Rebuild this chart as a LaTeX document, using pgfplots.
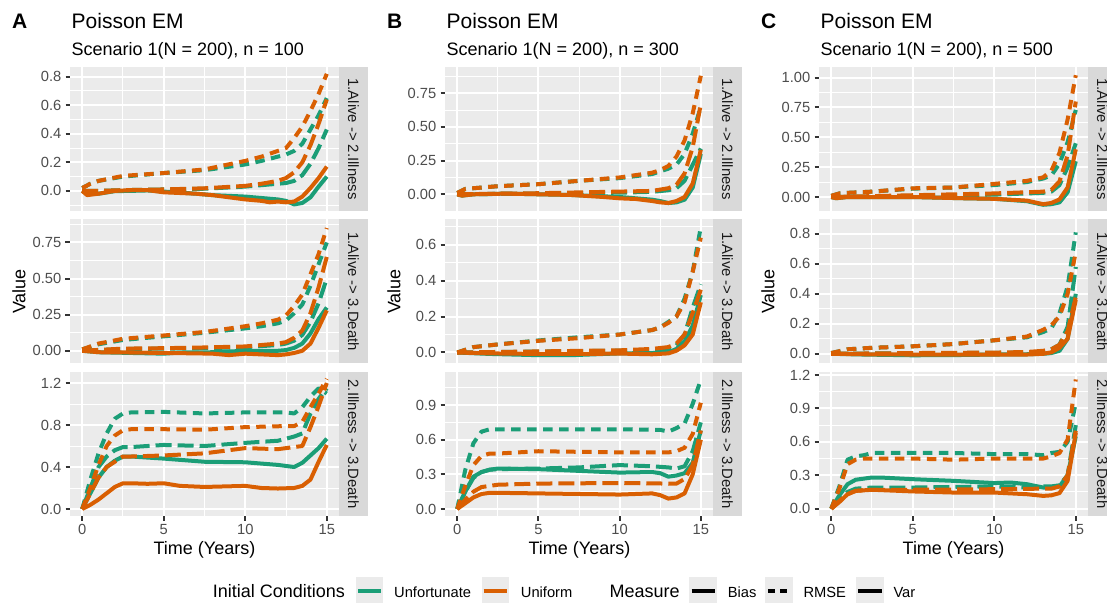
\documentclass[border=0pt]{standalone}
\usepackage{fontspec}
\setmainfont{Liberation Sans}
\usepackage{pgfplots}
\pgfplotsset{compat=1.18}
\definecolor{teal2}{HTML}{1B9E77}
\definecolor{orange2}{HTML}{D95F02}
\definecolor{panelbg}{HTML}{EBEBEB}
\definecolor{stripbg}{HTML}{D9D9D9}
\definecolor{tickc}{HTML}{333333}
\definecolor{labc}{HTML}{4D4D4D}
\definecolor{striptxt}{HTML}{1A1A1A}
\newcommand{\fs}[1]{\fontsize{#1}{#1}\selectfont}
\pgfplotsset{
  panel/.style={
    scale only axis, height=144pt, anchor=south west,
    xmin=-0.75, xmax=15.75, clip=false,
    axis background/.style={fill=panelbg},
    axis line style={draw=none},
    grid=both,
    major grid style={white, line width=2pt},
    minor grid style={white, line width=1pt},
    xtick={0,5,10,15}, minor xtick={2.5,7.5,12.5},
    tick align=outside, major tick length=4.5pt, minor tick length=0pt,
    major tick style={color=tickc, line width=2pt},
    xtick pos=bottom, ytick pos=left,
    tick label style={font=\fs{14.7}, text=labc},
    yticklabel style={inner sep=0pt, xshift=-4pt},
    xticklabel style={inner sep=0pt, yshift=-3.5pt},
  },
  toprow/.style={xmajorticks=false},
  botrow/.style={xticklabels={0,5,10,15}},
  strip/.style={extra description/.code={
    \fill[stripbg] (rel axis cs:1,0) rectangle ([xshift=29pt]rel axis cs:1,1);
    \node[rotate=-90, font=\fs{14.9}, text=striptxt, inner sep=0pt] at ([xshift=14.5pt]rel axis cs:1,0.5) {#1};
  }},
  bias/.style={line width=4pt, line join=round, mark=none},
  rmse/.style={line width=4pt, line join=round, mark=none, dash pattern=on 9.5pt off 6.5pt},
  var/.style={line width=4pt, line join=round, mark=none, dash pattern=on 16pt off 6pt},
}
\begin{document}
\begin{tikzpicture}
\path[use as bounding box] (0,0) rectangle (1107pt,602pt);

%%%%%%%%%%%%%%%% COLUMN A %%%%%%%%%%%%%%%%
\begin{axis}[panel, toprow, at={(70pt,391pt)}, width=269pt,
  ymin=-0.141, ymax=0.868, ytick={0,0.2,0.4,0.6,0.8}, yticklabels={0.0,0.2,0.4,0.6,0.8},
  minor ytick={-0.1,0.1,0.3,0.5,0.7}, strip={1.Alive -> 2.Illness}]
\addplot[teal2, bias] coordinates {(0,0.0)(0.3,-0.02)(1,-0.02)(2,-0.002)(3,0.0)(4,0.003)(5,-0.005)(6,-0.012)(7,-0.02)(8,-0.03)(9,-0.035)(10,-0.04)(11,-0.05)(12,-0.06)(12.5,-0.07)(13,-0.095)(13.5,-0.085)(14,-0.045)(14.5,0.03)(15,0.1)};
\addplot[teal2, rmse] coordinates {(0,0.02)(0.5,0.05)(1,0.07)(2.5,0.1)(5,0.125)(7.5,0.145)(10,0.185)(11,0.21)(12,0.24)(12.5,0.255)(13,0.28)(13.5,0.33)(14,0.43)(14.5,0.53)(15,0.65)};
\addplot[teal2, var] coordinates {(0,0.0)(1,0.0)(2.5,0.005)(5,0.01)(7.5,0.015)(10,0.03)(11,0.04)(12,0.05)(12.5,0.055)(13,0.07)(13.5,0.11)(14,0.19)(14.5,0.3)(15,0.43)};
\addplot[orange2, bias] coordinates {(0,0.0)(0.3,-0.03)(1,-0.02)(2,0.0)(3,0.005)(4,0.005)(5,-0.01)(6,-0.015)(7,-0.02)(8,-0.03)(9,-0.045)(10,-0.06)(11,-0.07)(11.5,-0.08)(12,-0.075)(12.5,-0.08)(13,-0.075)(13.5,-0.04)(14,0.02)(14.5,0.09)(15,0.17)};
\addplot[orange2, rmse] coordinates {(0,0.02)(0.5,0.05)(1,0.07)(2.5,0.105)(5,0.125)(7.5,0.15)(10,0.21)(11,0.24)(12,0.28)(12.5,0.3)(13,0.37)(13.5,0.45)(14,0.56)(14.5,0.68)(15,0.82)};
\addplot[orange2, var] coordinates {(0,0.0)(1,0.0)(2.5,0.005)(5,0.01)(7.5,0.018)(10,0.035)(11,0.05)(12,0.07)(12.5,0.09)(13,0.13)(13.5,0.2)(14,0.32)(14.5,0.47)(15,0.64)};
\end{axis}

\begin{axis}[panel, toprow, at={(70pt,238.5pt)}, width=269pt,
  ymin=-0.088, ymax=0.909, ytick={0,0.25,0.5,0.75}, yticklabels={0.00,0.25,0.50,0.75},
  minor ytick={0.125,0.375,0.625,0.875}, strip={1.Alive -> 3.Death}]
\addplot[teal2, bias] coordinates {(0,0)(1,-0.01)(3,-0.015)(5,-0.02)(6,-0.012)(8,-0.01)(10,0.0)(12,0.0)(12.5,0.005)(13,0.02)(13.5,0.05)(14,0.12)(14.5,0.22)(15,0.3)};
\addplot[teal2, rmse] coordinates {(0,0.01)(1,0.045)(2.5,0.075)(5,0.1)(7.5,0.125)(10,0.155)(11,0.17)(12,0.19)(12.5,0.21)(13,0.26)(13.5,0.32)(14,0.45)(14.5,0.6)(15,0.75)};
\addplot[teal2, var] coordinates {(0,0)(2.5,0.012)(5,0.015)(7.5,0.018)(10,0.025)(12,0.04)(12.5,0.05)(13,0.07)(13.5,0.11)(14,0.2)(14.5,0.33)(15,0.5)};
\addplot[orange2, bias] coordinates {(0,0)(1,-0.01)(3,-0.012)(5,-0.015)(7,-0.018)(8,-0.02)(9,-0.03)(10,-0.02)(11,-0.025)(12,-0.03)(12.5,-0.025)(13,-0.015)(13.5,0.0)(14,0.05)(14.5,0.16)(15,0.28)};
\addplot[orange2, rmse] coordinates {(0,0.01)(1,0.05)(2.5,0.083)(5,0.106)(7.5,0.13)(10,0.17)(11,0.19)(12,0.215)(12.5,0.245)(13,0.31)(13.5,0.39)(14,0.53)(14.5,0.67)(15,0.85)};
\addplot[orange2, var] coordinates {(0,0)(2.5,0.015)(5,0.018)(7.5,0.023)(10,0.03)(12,0.05)(12.5,0.06)(13,0.09)(13.5,0.14)(14,0.26)(14.5,0.44)(15,0.65)};
\end{axis}

\begin{axis}[panel, botrow, at={(70pt,86pt)}, width=269pt,
  ymin=-0.0667, ymax=1.305, ytick={0,0.4,0.8,1.2}, yticklabels={0.0,0.4,0.8,1.2},
  minor ytick={0.2,0.6,1.0}, strip={2.Illness -> 3.Death}]
\addplot[teal2, bias] coordinates {(0,0)(0.5,0.15)(1,0.3)(1.5,0.4)(2,0.46)(2.5,0.5)(3,0.5)(5,0.48)(7.5,0.45)(10,0.445)(12,0.42)(13,0.4)(13.5,0.44)(14,0.51)(14.5,0.58)(15,0.67)};
\addplot[teal2, rmse] coordinates {(0,0)(0.5,0.28)(1,0.53)(1.5,0.72)(2,0.86)(2.5,0.91)(3,0.92)(5,0.925)(7.5,0.91)(10,0.92)(12.5,0.92)(13,0.91)(13.5,0.97)(14,1.07)(14.5,1.15)(15,1.1)};
\addplot[teal2, var] coordinates {(0,0)(0.5,0.2)(1,0.4)(1.5,0.5)(2,0.56)(2.5,0.59)(3,0.59)(5,0.61)(7.5,0.6)(10,0.63)(12,0.65)(13,0.69)(13.5,0.72)(14,0.91)(14.5,1.05)(15,1.15)};
\addplot[orange2, bias] coordinates {(0,0)(0.5,0.04)(1,0.09)(1.5,0.15)(2,0.21)(2.5,0.245)(3,0.245)(4,0.24)(5,0.245)(6,0.22)(7.5,0.21)(10,0.22)(11,0.2)(12,0.195)(13,0.2)(13.5,0.22)(14,0.28)(14.5,0.45)(15,0.61)};
\addplot[orange2, rmse] coordinates {(0,0)(0.5,0.2)(1,0.42)(1.5,0.6)(2,0.7)(2.5,0.75)(3,0.76)(5,0.76)(7.5,0.755)(10,0.78)(12.5,0.79)(13,0.79)(13.5,0.83)(14,0.97)(14.5,1.1)(15,1.24)};
\addplot[orange2, var] coordinates {(0,0)(0.5,0.15)(1,0.3)(1.5,0.4)(2,0.45)(2.5,0.5)(3,0.5)(5,0.51)(7.5,0.53)(10,0.58)(12,0.57)(13,0.59)(13.5,0.6)(14,0.78)(14.5,0.98)(15,1.2)};
\end{axis}

%%%%%%%%%%%%%%%% COLUMN B %%%%%%%%%%%%%%%%
\begin{axis}[panel, toprow, at={(445pt,391pt)}, width=268pt,
  ymin=-0.124, ymax=0.945, ytick={0,0.25,0.5,0.75}, yticklabels={0.00,0.25,0.50,0.75},
  minor ytick={0.125,0.375,0.625,0.875}, strip={1.Alive -> 2.Illness}]
\addplot[teal2, bias] coordinates {(0,0)(0.3,-0.01)(1,0.0)(3,0.005)(5,0.0)(7,-0.005)(9,-0.015)(10,-0.02)(11,-0.03)(12,-0.04)(12.5,-0.05)(13,-0.065)(13.5,-0.06)(14,-0.04)(14.5,0.05)(15,0.3)};
\addplot[teal2, rmse] coordinates {(0,0.01)(0.5,0.04)(1,0.045)(2.5,0.06)(5,0.075)(7.5,0.1)(10,0.12)(12,0.15)(12.5,0.17)(13,0.19)(13.5,0.22)(14,0.3)(14.5,0.45)(15,0.65)};
\addplot[teal2, var] coordinates {(0,0)(5,0.005)(10,0.012)(12,0.018)(13,0.03)(13.5,0.045)(14,0.1)(14.5,0.22)(15,0.34)};
\addplot[orange2, bias] coordinates {(0,0)(0.3,-0.01)(1,0.0)(3,0.005)(5,0.0)(7,-0.005)(9,-0.02)(10,-0.03)(11,-0.035)(12,-0.05)(12.5,-0.06)(13,-0.065)(13.5,-0.05)(14,-0.02)(14.5,0.08)(15,0.33)};
\addplot[orange2, rmse] coordinates {(0,0.01)(0.5,0.04)(1,0.045)(2.5,0.06)(5,0.075)(7.5,0.1)(10,0.125)(12,0.16)(12.5,0.18)(13,0.21)(13.5,0.28)(14,0.4)(14.5,0.6)(15,0.88)};
\addplot[orange2, var] coordinates {(0,0)(5,0.008)(10,0.02)(12,0.025)(13,0.045)(13.5,0.07)(14,0.155)(14.5,0.35)(15,0.67)};
\end{axis}

\begin{axis}[panel, toprow, at={(445pt,238.5pt)}, width=268pt,
  ymin=-0.0613, ymax=0.741, ytick={0,0.2,0.4,0.6}, yticklabels={0.0,0.2,0.4,0.6},
  minor ytick={0.1,0.3,0.5,0.7}, strip={1.Alive -> 3.Death}]
\addplot[teal2, bias] coordinates {(0,0)(2,-0.008)(5,-0.015)(7,-0.015)(10,-0.005)(12,-0.003)(13,0.0)(13.5,0.02)(14,0.06)(14.5,0.15)(15,0.32)};
\addplot[teal2, rmse] coordinates {(0,0)(1,0.03)(2.5,0.045)(5,0.067)(7.5,0.085)(10,0.1)(12,0.125)(12.5,0.14)(13,0.17)(13.5,0.2)(14,0.3)(14.5,0.45)(15,0.7)};
\addplot[teal2, var] coordinates {(0,0)(5,0.005)(10,0.01)(12,0.015)(13,0.02)(13.5,0.04)(14,0.1)(14.5,0.25)(15,0.38)};
\addplot[orange2, bias] coordinates {(0,0)(2,-0.005)(5,-0.008)(8,-0.008)(10,-0.006)(12,-0.01)(13,-0.005)(13.5,0.01)(14,0.04)(14.5,0.1)(15,0.28)};
\addplot[orange2, rmse] coordinates {(0,0)(1,0.03)(2.5,0.045)(5,0.065)(7.5,0.08)(10,0.1)(12,0.125)(12.5,0.14)(13,0.165)(13.5,0.2)(14,0.28)(14.5,0.45)(15,0.64)};
\addplot[orange2, var] coordinates {(0,0)(5,0.006)(10,0.012)(12,0.02)(13,0.03)(13.5,0.05)(14,0.1)(14.5,0.22)(15,0.35)};
\end{axis}

\begin{axis}[panel, botrow, at={(445pt,86pt)}, width=268pt,
  ymin=-0.0606, ymax=1.186, ytick={0,0.3,0.6,0.9}, yticklabels={0.0,0.3,0.6,0.9},
  minor ytick={0.15,0.45,0.75,1.05}, strip={2.Illness -> 3.Death}]
\addplot[teal2, bias] coordinates {(0,0)(0.5,0.15)(1,0.28)(1.5,0.32)(2,0.34)(2.5,0.35)(5,0.345)(7.5,0.33)(10,0.315)(12,0.32)(12.5,0.31)(13,0.28)(13.5,0.29)(14,0.31)(14.5,0.4)(15,0.68)};
\addplot[teal2, rmse] coordinates {(0,0)(0.5,0.34)(1,0.57)(1.5,0.67)(2,0.69)(2.5,0.69)(5,0.69)(10,0.69)(12.5,0.685)(13,0.67)(13.5,0.7)(14,0.74)(14.5,0.91)(15,1.12)};
\addplot[teal2, var] coordinates {(0,0)(0.5,0.15)(1,0.27)(1.5,0.32)(2,0.34)(2.5,0.345)(5,0.35)(7.5,0.36)(10,0.38)(12,0.37)(13,0.36)(13.5,0.35)(14,0.37)(14.5,0.5)(15,0.75)};
\addplot[orange2, bias] coordinates {(0,0)(0.5,0.05)(1,0.1)(1.5,0.13)(2,0.14)(2.5,0.14)(5,0.135)(7.5,0.13)(10,0.125)(12,0.135)(12.5,0.12)(13,0.09)(13.5,0.1)(14,0.135)(14.5,0.3)(15,0.6)};
\addplot[orange2, rmse] coordinates {(0,0)(0.5,0.2)(1,0.38)(1.5,0.46)(2,0.48)(2.5,0.48)(5,0.5)(10,0.49)(13,0.49)(13.5,0.5)(14,0.53)(14.5,0.65)(15,0.92)};
\addplot[orange2, var] coordinates {(0,0)(0.5,0.08)(1,0.15)(1.5,0.19)(2,0.2)(2.5,0.21)(5,0.22)(10,0.225)(13,0.22)(13.5,0.22)(14,0.26)(14.5,0.38)(15,0.68)};
\end{axis}

%%%%%%%%%%%%%%%% COLUMN C %%%%%%%%%%%%%%%%
\begin{axis}[panel, toprow, at={(819pt,391pt)}, width=269pt,
  ymin=-0.117, ymax=1.089, ytick={0,0.25,0.5,0.75,1}, yticklabels={0.00,0.25,0.50,0.75,1.00},
  minor ytick={0.125,0.375,0.625,0.875}, strip={1.Alive -> 2.Illness}]
\addplot[teal2, bias] coordinates {(0,0)(0.3,-0.01)(1,0.0)(5,0.0)(8,-0.01)(10,-0.015)(12,-0.035)(13,-0.065)(13.5,-0.06)(14,-0.045)(14.5,0.04)(15,0.3)};
\addplot[teal2, rmse] coordinates {(0,0.01)(0.5,0.03)(1,0.035)(2.5,0.045)(5,0.07)(7.5,0.08)(10,0.1)(12,0.125)(12.5,0.14)(13,0.155)(13.5,0.18)(14,0.28)(14.5,0.46)(15,0.73)};
\addplot[teal2, var] coordinates {(0,0)(5,0.01)(10,0.02)(12,0.03)(13,0.035)(13.5,0.045)(14,0.1)(14.5,0.25)(15,0.45)};
\addplot[orange2, bias] coordinates {(0,0)(0.3,-0.01)(1,0.0)(5,0.0)(8,-0.01)(10,-0.015)(12,-0.03)(13,-0.06)(13.5,-0.05)(14,-0.02)(14.5,0.08)(15,0.4)};
\addplot[orange2, rmse] coordinates {(0,0.01)(0.5,0.03)(1,0.035)(2.5,0.045)(5,0.073)(7.5,0.08)(10,0.11)(12,0.135)(12.5,0.15)(13,0.165)(13.5,0.22)(14,0.37)(14.5,0.65)(15,1.02)};
\addplot[orange2, var] coordinates {(0,0)(5,0.015)(10,0.03)(12,0.04)(13,0.045)(13.5,0.06)(14,0.13)(14.5,0.35)(15,0.8)};
\end{axis}

\begin{axis}[panel, toprow, at={(819pt,238.5pt)}, width=269pt,
  ymin=-0.0647, ymax=0.896, ytick={0,0.2,0.4,0.6,0.8}, yticklabels={0.0,0.2,0.4,0.6,0.8},
  minor ytick={0.1,0.3,0.5,0.7}, strip={1.Alive -> 3.Death}]
\addplot[teal2, bias] coordinates {(0,0)(2,-0.005)(5,-0.01)(8,-0.008)(10,-0.005)(12,-0.003)(13,0.0)(13.5,0.005)(14,0.02)(14.5,0.1)(15,0.4)};
\addplot[teal2, rmse] coordinates {(0,0.005)(1,0.03)(2.5,0.04)(5,0.05)(7.5,0.065)(10,0.09)(12,0.11)(13,0.145)(13.5,0.17)(14,0.27)(14.5,0.45)(15,0.81)};
\addplot[teal2, var] coordinates {(0,0)(5,0.004)(10,0.006)(12,0.008)(13,0.015)(13.5,0.03)(14,0.06)(14.5,0.18)(15,0.58)};
\addplot[orange2, bias] coordinates {(0,0)(2,-0.003)(5,-0.005)(10,-0.005)(12,-0.005)(13,0.0)(13.5,0.01)(14,0.04)(14.5,0.1)(15,0.36)};
\addplot[orange2, rmse] coordinates {(0,0.005)(1,0.03)(2.5,0.04)(5,0.05)(7.5,0.065)(10,0.09)(12,0.115)(13,0.16)(13.5,0.19)(14,0.25)(14.5,0.4)(15,0.68)};
\addplot[orange2, var] coordinates {(0,0)(5,0.005)(10,0.008)(12,0.012)(13,0.02)(13.5,0.03)(14,0.06)(14.5,0.15)(15,0.38)};
\end{axis}

\begin{axis}[panel, botrow, at={(819pt,86pt)}, width=269pt,
  ymin=-0.0655, ymax=1.227, ytick={0,0.3,0.6,0.9,1.2}, yticklabels={0.0,0.3,0.6,0.9,1.2},
  minor ytick={0.15,0.45,0.75,1.05}, strip={2.Illness -> 3.Death}]
\addplot[teal2, bias] coordinates {(0,0)(0.5,0.12)(1,0.22)(1.5,0.26)(2,0.27)(2.5,0.28)(3,0.28)(5,0.265)(7.5,0.25)(10,0.23)(11,0.235)(12,0.22)(13,0.19)(13.5,0.19)(14,0.2)(14.5,0.3)(15,0.65)};
\addplot[teal2, rmse] coordinates {(0,0)(0.5,0.2)(1,0.44)(1.5,0.47)(2,0.48)(2.5,0.5)(5,0.5)(7.5,0.5)(10,0.49)(12,0.49)(13,0.48)(13.5,0.5)(14,0.51)(14.5,0.6)(15,0.95)};
\addplot[teal2, var] coordinates {(0,0)(0.5,0.08)(1,0.15)(1.5,0.18)(2,0.185)(2.5,0.19)(5,0.19)(10,0.2)(12,0.19)(13,0.2)(13.5,0.2)(14,0.21)(14.5,0.3)(15,0.75)};
\addplot[orange2, bias] coordinates {(0,0)(0.5,0.06)(1,0.13)(1.5,0.16)(2,0.165)(2.5,0.17)(5,0.155)(7.5,0.145)(10,0.145)(12,0.13)(13,0.115)(13.5,0.12)(14,0.14)(14.5,0.25)(15,0.68)};
\addplot[orange2, rmse] coordinates {(0,0)(0.5,0.18)(1,0.4)(1.5,0.44)(2,0.45)(2.5,0.45)(5,0.45)(7.5,0.44)(10,0.45)(12,0.45)(13,0.45)(13.5,0.47)(14,0.5)(14.5,0.62)(15,1.16)};
\addplot[orange2, var] coordinates {(0,0)(0.5,0.07)(1,0.13)(1.5,0.16)(2,0.165)(2.5,0.17)(5,0.17)(10,0.175)(13,0.18)(13.5,0.18)(14,0.2)(14.5,0.3)(15,0.7)};
\end{axis}

%%%%%%%%%%%%%%%% TITLES AND LABELS %%%%%%%%%%%%%%%%
\foreach \tag/\px/\sub in {A/70/100, B/445/300, C/819/500}{
  \node[anchor=base west, inner sep=0pt, font=\bfseries\fs{21}] at ({\px pt-58pt},573.7pt) {\tag};
  \node[anchor=base west, inner sep=0pt, font=\fs{21}] at ({\px pt+1.5pt},573.7pt) {Poisson EM};
  \node[anchor=base west, inner sep=0pt, font=\fs{18}] at ({\px pt+1.5pt},546pt) {Scenario 1(N = 200), n = \sub};
  \node[rotate=90, inner sep=0pt, font=\fs{18}] at ({\px pt-51pt},310.5pt) {Value};
  \node[anchor=base, inner sep=0pt, font=\fs{18}] at ({\px pt+134.5pt},48pt) {Time (Years)};
}

%%%%%%%%%%%%%%%% LEGEND %%%%%%%%%%%%%%%%
\node[anchor=base west, inner sep=0pt, font=\fs{18}] at (212.7pt,4.3pt) {Initial Conditions};
\fill[panelbg] (356pt,-4pt) rectangle (383pt,25pt);
\draw[teal2, line width=3.5pt] (358pt,11pt) -- (381pt,11pt);
\node[anchor=base west, inner sep=0pt, font=\fs{14.7}] at (394pt,4.3pt) {Unfortunate};
\fill[panelbg] (481.7pt,-4pt) rectangle (508.7pt,25pt);
\draw[orange2, line width=3.5pt] (483.7pt,11pt) -- (506.7pt,11pt);
\node[anchor=base west, inner sep=0pt, font=\fs{14.7}] at (520.7pt,4.3pt) {Uniform};
\node[anchor=base west, inner sep=0pt, font=\fs{18}] at (609.3pt,4.3pt) {Measure};
\fill[panelbg] (689.3pt,-4pt) rectangle (717.3pt,25pt);
\draw[black, line width=3.5pt] (691.7pt,11pt) -- (715pt,11pt);
\node[anchor=base west, inner sep=0pt, font=\fs{14.7}] at (727.7pt,4.3pt) {Bias};
\fill[panelbg] (765pt,-4pt) rectangle (793pt,25pt);
\draw[black, line width=3.5pt, dash pattern=on 7pt off 5pt] (768pt,11pt) -- (790pt,11pt);
\node[anchor=base west, inner sep=0pt, font=\fs{14.7}] at (803.3pt,4.3pt) {RMSE};
\fill[panelbg] (856pt,-4pt) rectangle (884pt,25pt);
\draw[black, line width=3.5pt] (858pt,11pt) -- (882pt,11pt);
\node[anchor=base west, inner sep=0pt, font=\fs{14.7}] at (893.3pt,4.3pt) {Var};
\end{tikzpicture}
\end{document}
